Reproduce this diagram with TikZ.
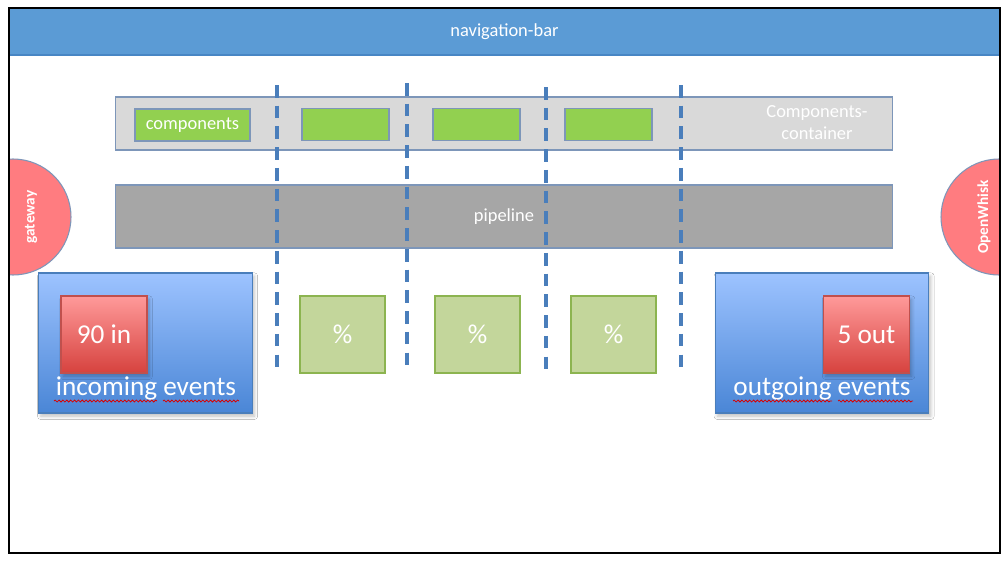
\documentclass[tikz,border=0pt]{standalone}
\usepackage{fontspec}
\setmainfont{Carlito}
\usepackage{tikz}
\usetikzlibrary{calc, shapes.geometric, shadows.blur, positioning, decorations.pathmorphing}
\definecolor{NavBlue}{RGB}{91, 155, 213}
\definecolor{NavEdge}{RGB}{72, 134, 196}
\definecolor{PaleGrey}{RGB}{217, 217, 217}
\definecolor{MidGrey}{RGB}{166, 166, 166}
\definecolor{EdgeSlate}{RGB}{125, 150, 185}
\definecolor{LeafGreen}{RGB}{146, 208, 80}
\definecolor{SageGreen}{RGB}{195, 214, 155}
\definecolor{SageEdge}{RGB}{140, 180, 80}
\definecolor{SalmonRed}{RGB}{255, 124, 128}
\definecolor{SkyTop}{RGB}{157, 195, 255}
\definecolor{SkyBottom}{RGB}{74, 134, 214}
\definecolor{SkyEdge}{RGB}{74, 126, 187}
\definecolor{BrickTop}{RGB}{255, 154, 154}
\definecolor{BrickBottom}{RGB}{214, 66, 62}
\definecolor{BrickEdge}{RGB}{192, 80, 77}
\definecolor{DashBlue}{RGB}{74, 126, 187}

\begin{document}
\begin{tikzpicture}[x=0.02cm, y=-0.02cm,
    smalltxt/.style={text=white, font=\fontsize{10.5}{12.5}\selectfont},
    bigtxt/.style={text=white, font=\fontsize{15.5}{18}\selectfont},
    box/.style={rectangle, inner sep=0pt, outer sep=0pt},
    compbox/.style={box, fill=LeafGreen, draw=EdgeSlate, line width=0.6pt,
        minimum width=1.74cm, minimum height=0.64cm},
    pctbox/.style={box, fill=SageGreen, draw=SageEdge, line width=0.6pt,
        minimum width=1.7cm, minimum height=1.54cm, bigtxt},
    eventbox/.style={box, top color=SkyTop, bottom color=SkyBottom, draw=SkyEdge,
        line width=0.6pt, minimum width=4.27cm, minimum height=2.8cm,
        blur shadow={shadow xshift=1.2pt, shadow yshift=-1.8pt, shadow opacity=25}},
    countbox/.style={box, top color=BrickTop, bottom color=BrickBottom, draw=BrickEdge,
        line width=0.6pt, minimum width=1.72cm, minimum height=1.54cm, bigtxt,
        blur shadow={shadow xshift=1.2pt, shadow yshift=-1.8pt, shadow opacity=25}},
    sidecircle/.style={circle, fill=SalmonRed, draw=EdgeSlate, line width=0.6pt,
        inner sep=0pt, minimum size=2.32cm},
    sidetxt/.style={text=white, rotate=90, font=\fontsize{8.7}{10}\selectfont\bfseries},
    sepline/.style={draw=DashBlue, line width=2.1pt, dash pattern=on 7.2pt off 4.6pt},
    spell/.style={red!85!black, line width=0.45pt, decorate,
        decoration={snake, amplitude=0.55pt, segment length=2.2pt}}]
    \useasboundingbox (0,0) rectangle (1008,561);
    \fill[white] (0,0) rectangle (1008,561);

    % Navigation bar
    \node[box, fill=NavBlue, minimum width=19.82cm, minimum height=0.96cm, smalltxt]
        (nav) at (504.5,32) {navigation-bar};
    \draw[NavEdge, line width=1.2pt] ($(nav.south west)+(0,-1)$) -- ($(nav.south east)+(0,-1)$);

    % Seitliche Dienste
    \begin{scope}
        \clip (9,8) rectangle (1000,553);
        \node[sidecircle] (gatecirc) at (13,217) {};
        \node[sidecircle] (whiskcirc) at (999,217) {};
    \end{scope}
    \node[sidetxt] (gate) at (31,217) {gateway};
    \node[sidetxt] (whisk) at (984,217) {OpenWhisk};

    % Components-container
    \node[box, fill=PaleGrey, draw=EdgeSlate, line width=0.6pt,
        minimum width=15.56cm, minimum height=1.06cm] (container) at (504,123.5) {};
    \node[compbox, minimum width=2.3cm, smalltxt] (comp1) at (192.5,125) {components};
    \node[compbox] (comp2) at (345.5,124.5) {};
    \node[compbox] (comp3) at (476.5,124.5) {};
    \node[compbox] (comp4) at (608.5,124.5) {};
    \node[smalltxt, align=center] (contlbl) at (817,123) {Components-\\container};

    % Pipeline
    \node[box, fill=MidGrey, draw=EdgeSlate, line width=0.6pt,
        minimum width=15.56cm, minimum height=1.26cm, smalltxt] (pipe) at (504,216.5) {pipeline};

    % Trennlinien
    \coordinate (sep1t) at (277,85);  \coordinate (sep1b) at (277,375);
    \coordinate (sep2t) at (407,83);  \coordinate (sep2b) at (407,372);
    \coordinate (sep3t) at (546,87);  \coordinate (sep3b) at (546,374);
    \coordinate (sep4t) at (681,85);  \coordinate (sep4b) at (681,375);
    \draw[sepline] (sep1t) -- (sep1b);
    \draw[sepline] (sep2t) -- (sep2b);
    \draw[sepline] (sep3t) -- (sep3b);
    \draw[sepline] (sep4t) -- (sep4b);

    % Prozent-Felder
    \node[pctbox] (pct1) at (342.5,334.5) {\%};
    \node[pctbox] (pct2) at (477.5,334.5) {\%};
    \node[pctbox] (pct3) at (613.5,334.5) {\%};

    % Incoming events
    \node[eventbox] (inbox) at (145.5,343) {};
    \node[countbox] (incount) at (104,334.5) {90 in};
    \node[bigtxt] (inlbl) at (146,388) {incoming events};
    \draw[spell] (54,401) -- (157,401);
    \draw[spell] (163,401) -- (239,401);

    % Outgoing events
    \node[eventbox] (outbox) at (822,343) {};
    \node[countbox] (outcount) at (866.5,334.5) {5 out};
    \node[bigtxt] (outlbl) at (822,388) {outgoing events};
    \draw[spell] (733,401) -- (832,401);
    \draw[spell] (838,401) -- (913,401);

    % Rahmen
    \draw[black, line width=0.7pt] (9,8) rectangle (1000,553);
\end{tikzpicture}
\end{document}
